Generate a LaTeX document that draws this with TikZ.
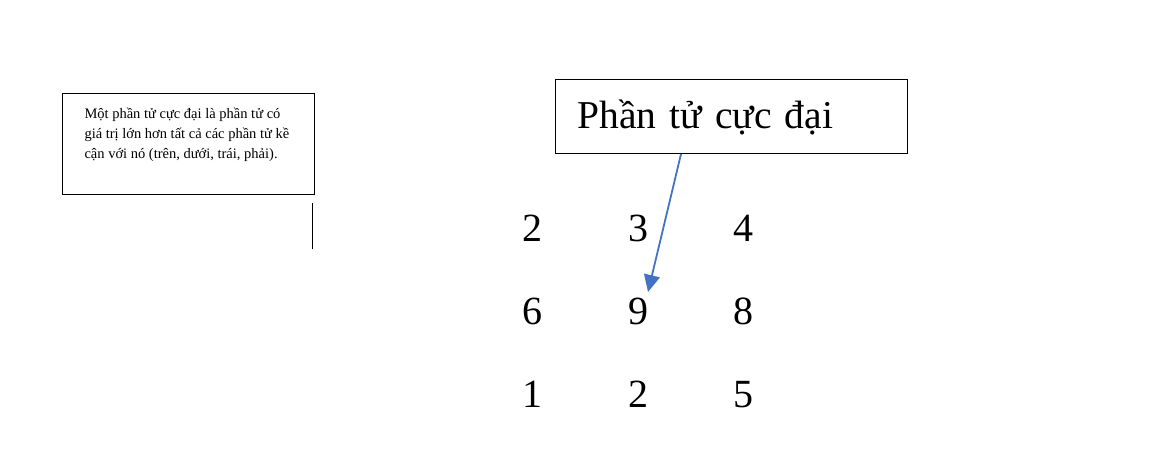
\documentclass[tikz,border=0pt]{standalone}
\usepackage{fontspec}
\setmainfont{Liberation Serif}
\usetikzlibrary{matrix,arrows.meta}
\definecolor{arrowblue}{HTML}{4472C4}

\begin{document}
\begin{tikzpicture}[x=1pt,y=-1pt,
notebox/.style={draw,line width=1pt,anchor=north west,inner xsep=22pt,inner ysep=11pt,
font=\fontsize{14.5}{20}\selectfont},
titlebox/.style={draw,line width=1pt,anchor=north west,inner xsep=22pt,inner ysep=0pt,
minimum width=352pt,minimum height=74pt,text width=308pt,align=left,
text height=30pt,text depth=6pt,font=\fontsize{39.5}{48}\selectfont},
pointer/.style={draw=arrowblue,line width=1.8pt,-{Triangle[length=17pt,width=16pt]}}]
\useasboundingbox (0,0) rectangle (1168,469);
\node (note) [notebox] at (62,93) {\parbox[t][79pt][t]{208pt}{\strut Một phần tử cực đại là phần tử có\\
giá trị lớn hơn tất cả các phần tử kề\\
cận với nó (trên, dưới, trái, phải).}};
\draw[line width=1pt] (312,203) -- (312,249);
\node (title) [titlebox] at (555,79) {Phần tử cực đại};
\matrix (M) [matrix of nodes,
column sep=0pt,
row sep=0pt,
anchor=center,
nodes={minimum width=105.5pt,minimum height=83pt,inner sep=0pt,anchor=center,
text height=27pt,text depth=0pt,font=\fontsize{40}{48}\selectfont}] at (638,311) {
 2 & 3 & 4 \\
 6 & 9 & 8 \\
 1 & 2 & 5 \\
};
\draw[pointer] ([xshift=126pt]title.south west) -- ([xshift=10pt,yshift=19pt]M-2-2.center);
\end{tikzpicture}
\end{document}
